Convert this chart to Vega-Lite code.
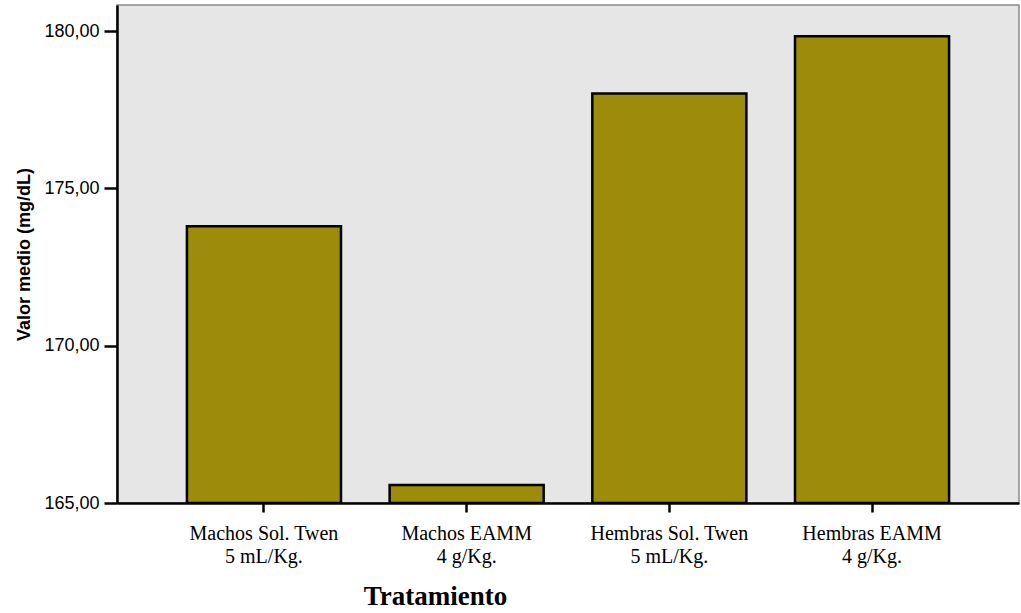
{
  "$schema": "https://vega.github.io/schema/vega-lite/v6.json",
  "width": 902,
  "height": 498,
  "autosize": {"type": "none"},
  "padding": {"left": 117, "top": 5, "right": 2, "bottom": 110},
  "background": "white",
  "data": {
    "values": [
      {"tratamiento": "Machos Sol. Twen|5 mL/Kg.", "valor": 173.80},
      {"tratamiento": "Machos EAMM|4 g/Kg.", "valor": 165.57},
      {"tratamiento": "Hembras Sol. Twen|5 mL/Kg.", "valor": 178.02},
      {"tratamiento": "Hembras EAMM|4 g/Kg.", "valor": 179.84}
    ]
  },
  "mark": {"type": "bar", "color": "#9d8c0a", "stroke": "black", "strokeWidth": 2.5, "clip": true},
  "encoding": {
    "x": {
      "field": "tratamiento",
      "type": "nominal",
      "sort": null,
      "scale": {"paddingInner": 0.24, "paddingOuter": 0.345},
      "axis": {
        "title": "Tratamiento",
        "titleFont": "Liberation Serif",
        "titleFontSize": 27,
        "titleFontWeight": "bold",
        "titleColor": "black",
        "titleX": 318,
        "titleY": 101,
        "titleAlign": "center",
        "titleBaseline": "alphabetic",
        "labelExpr": "split(datum.label, '|')",
        "labelAngle": 0,
        "labelFont": "Liberation Serif",
        "labelFontSize": 20,
        "labelLineHeight": 23,
        "labelColor": "black",
        "labelBaseline": "top",
        "labelPadding": 11,
        "tickSize": 9,
        "tickWidth": 2.5,
        "tickColor": "black",
        "domainColor": "black",
        "domainWidth": 2.5,
        "grid": false
      }
    },
    "y": {
      "field": "valor",
      "type": "quantitative",
      "scale": {"domain": [165, 180.83], "nice": false, "zero": false},
      "axis": {
        "title": "Valor medio (mg/dL)",
        "titleFont": "Liberation Sans",
        "titleFontSize": 18,
        "titleFontWeight": "bold",
        "titleColor": "black",
        "titlePadding": 10,
        "values": [165, 170, 175, 180],
        "labelExpr": "replace(format(datum.value, '.2f'), '.', ',')",
        "labelFont": "Liberation Sans",
        "labelFontSize": 18,
        "labelColor": "black",
        "labelPadding": 5,
        "tickSize": 13,
        "tickWidth": 2.5,
        "tickColor": "black",
        "domainColor": "black",
        "domainWidth": 2.5,
        "grid": false
      }
    },
    "y2": {"datum": 165}
  },
  "config": {
    "view": {"fill": "#e6e6e6", "stroke": "#8a8a8a", "strokeWidth": 1.5}
  }
}
